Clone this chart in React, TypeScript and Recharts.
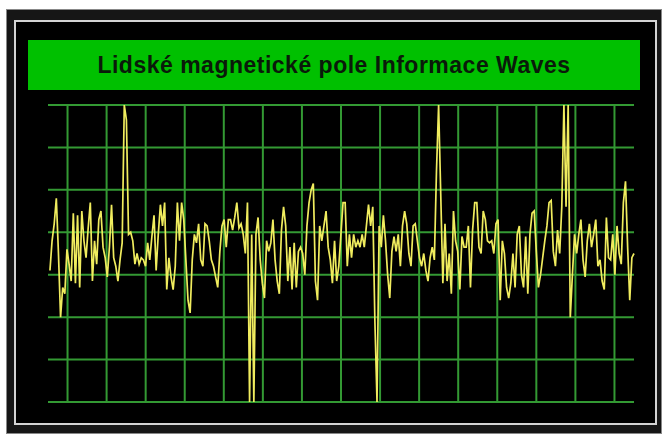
import { LineChart, Line, XAxis, YAxis, CartesianGrid } from "recharts";

// Hodnoty, po úsecích zleva doprava
const seg1 = [3.1, 3.8, 4.2, 4.8, 3.5, 2.0, 2.7, 2.55, 3.6, 3.25, 2.85, 4.45, 2.8, 4.4, 2.7, 4.5, 3.8, 3.4, 4.1, 4.7, 2.85, 3.8, 3.25, 4.3, 4.5, 3.65, 3.4, 2.95, 3.65, 4.65, 3.4, 3.2, 2.85, 3.35, 3.75];
const seg2 = [7.0, 6.65, 3.95, 4.0, 3.8, 3.25, 3.5, 3.25, 3.4, 3.35, 3.2, 3.75, 3.35, 3.9, 4.4, 3.1, 3.95, 4.65, 4.15, 4.7, 2.65, 3.4, 2.95, 2.65, 3.2, 4.7, 3.8, 4.7, 4.3, 3.35, 2.4, 2.1, 3.35, 3.95];
const seg3 = [3.75, 4.2, 3.35, 3.2, 4.2, 4.15, 3.8, 3.35, 3.2, 2.95, 2.7, 3.55, 4.15, 4.3, 3.65, 4.3, 4.3, 4.05, 4.35, 4.7, 4.1, 4.2, 3.95, 3.5, 4.7, 0.0, 3.95, 0.0, 3.95, 4.35, 3.35, 2.8, 2.45, 3.8, 3.55];
const seg4 = [3.75, 4.3, 3.35, 2.85, 2.55, 4.05, 4.6, 4.15, 2.85, 3.65, 2.65, 3.75, 2.7, 3.55, 3.65, 3.5, 3.0, 4.15, 4.7, 5.0, 5.15, 2.85, 2.4, 4.15, 3.8, 4.15, 4.5, 3.65, 3.35, 2.8, 3.8, 2.85, 3.2, 3.95, 4.7];
const seg5 = [4.7, 3.2, 3.95, 3.4, 3.95, 3.65, 3.8, 3.65, 3.95, 3.65, 4.15, 4.65, 4.15, 4.6, 1.9, 0.0, 4.15, 3.65, 4.4, 3.8, 3.0, 2.45, 3.55, 3.9, 3.55, 3.95, 3.2, 4.15, 4.5, 4.2, 3.5, 3.2, 4.15, 4.2];
const seg6 = [3.8, 3.4, 3.2, 3.5, 3.1, 2.85, 3.4, 3.65, 3.35, 5.45, 7.0, 4.9, 2.8, 4.2, 2.85, 3.5, 2.55, 4.5, 3.8, 3.55, 2.65, 3.9, 3.65, 3.65, 4.15, 2.7, 4.05, 4.7, 4.7, 3.65, 3.5, 4.5, 4.3, 3.8, 3.75];
const seg7 = [3.8, 3.5, 4.2, 4.3, 2.4, 3.8, 3.5, 2.7, 2.45, 2.8, 3.5, 2.7, 3.95, 4.15, 3.0, 2.7, 3.9, 2.55, 3.95, 4.45, 4.5, 3.55, 2.7, 3.0, 3.4, 3.8, 4.15, 4.7, 4.75, 3.55, 3.2, 4.05, 3.5, 4.6, 7.0];
const seg8 = [4.6, 7.0, 2.0, 3.0, 3.95, 3.5, 3.95, 4.3, 3.35, 2.95, 3.8, 4.2, 3.65, 3.95, 4.3, 3.2, 3.35, 2.85, 2.65, 4.35, 3.4, 3.35, 3.95, 3.0, 4.15, 3.5, 3.25, 4.7, 5.2, 3.65, 2.4, 3.4, 3.5];

const waveValues = [...seg1, ...seg2, ...seg3, ...seg4, ...seg5, ...seg6, ...seg7, ...seg8];

const gridX = [1, 3, 5, 7, 9, 11, 13, 15, 17, 19, 21, 23, 25, 27, 29];
const gridY = [0, 1, 2, 3, 4, 5, 6, 7];

const title = "Lidské magnetické pole Informace Waves";

const step = 29.9 / (waveValues.length - 1);
const data = waveValues.map((v, i) => ({ t: 0.1 + i * step, v }));

export default function App() {
  return (
    <div style={{ position: "fixed", left: 0, top: 0, width: 667, height: 439, background: "#fff", fontFamily: "'Liberation Sans', Arial, sans-serif" }}>
      {/* tmavý rám */}
      <div style={{ position: "absolute", left: 7, top: 10, width: 654, height: 423, background: "#161616", boxShadow: "0 0 0 1px #888" }} />
      <div style={{ position: "absolute", left: 14, top: 20, width: 639, height: 401, background: "#000", border: "2px solid #d4d4d4" }} />
      <div
        style={{
          position: "absolute", left: 28, top: 40, width: 612, height: 50, background: "#00c000",
          display: "flex", alignItems: "center", justifyContent: "center",
          fontWeight: "bold", fontSize: 23, letterSpacing: 0.5, color: "#0a1a0a",
        }}
      >
        {title}
      </div>
      <div style={{ position: "absolute", left: 0, top: 0 }}>
        <LineChart width={667} height={439} data={data} margin={{ top: 105, left: 48, right: 33, bottom: 37 }}>
          <CartesianGrid stroke="#339933" strokeWidth={2} verticalValues={gridX} horizontalValues={gridY} />
          <XAxis dataKey="t" type="number" domain={[0, 30]} ticks={gridX} hide />
          <YAxis type="number" domain={[0, 7]} ticks={gridY} hide />
          <Line type="linear" dataKey="v" stroke="#f0ec5e" strokeWidth={1.7} dot={false} isAnimationActive={false} />
        </LineChart>
      </div>
    </div>
  );
}
